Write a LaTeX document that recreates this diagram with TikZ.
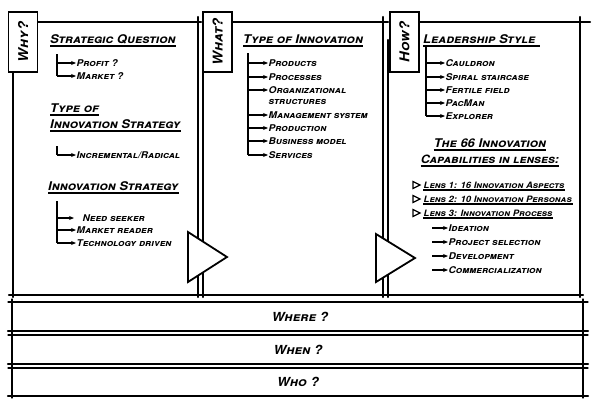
\documentclass[tikz,border=0pt]{standalone}
\usepackage{fontspec}
\newfontfamily\hand{TeX Gyre Heros}[Letters=SmallCaps, FakeStretch=1.08]
\usetikzlibrary{arrows.meta,calc}
\tikzset{
  border/.style={line width=2.2pt, line cap=round},
  thinb/.style={line width=1.2pt, line cap=round},
  tab/.style={draw, line width=1.8pt, fill=white, minimum width=29pt, minimum height=60pt, inner sep=0pt},
  tabtxt/.style={font=\hand\bfseries\itshape\fontsize{13.5}{14}\selectfont, rotate=90},
  head/.style={font=\hand\bfseries\itshape\fontsize{12}{13}\selectfont, anchor=base west, inner sep=0pt},
  item/.style={font=\hand\bfseries\itshape\fontsize{9.3}{10}\selectfont, anchor=west, inner sep=0.5pt},
  lensitem/.style={item, font=\hand\bfseries\itshape\fontsize{8.8}{10}\selectfont},
  rowtxt/.style={font=\hand\bfseries\itshape\fontsize{12.5}{13}\selectfont, inner sep=0pt},
  arr/.style={-{Stealth[length=5pt,width=4pt]}, line width=1.1pt},
  tree/.style={line width=1.2pt},
  uline/.style={line width=1.2pt},
  tri/.style={draw, line width=1.8pt, fill=white, line join=miter},
  lenstri/.style={draw, line width=1.2pt, line join=miter},
}
\begin{document}
\begin{tikzpicture}[x=1pt,y=-1pt]
\useasboundingbox (0,0) rectangle (592,399);
% ---------- panels ----------
% panel 1
\draw[border] (13,70) -- (13,297);
\draw[border] (34,22) -- (201,22);
\draw[border] (198,17) -- (198,297);
\draw[border] (9,295) -- (201,295);
% panel 2
\draw[border] (203,40) -- (203,297);
\draw[border] (229,22) -- (388,22);
\draw[border] (383,17) -- (383,297);
\draw[border] (200,295) -- (386,295);
% panel 3
\draw[border] (388,40) -- (388,297);
\draw[border] (416,22) -- (590,22);
\draw[border] (580,17) -- (580,297);
\draw[border] (385,295) -- (583,295);
% tabs
\node[tab] (why) at (23,42) {};
\node[tabtxt] at (why) {Why?};
\node[tab] (what) at (217.5,42) {};
\node[tabtxt] at (what) {What?};
\node[tab] (how) at (404.5,42) {};
\node[tabtxt] at (how) {How?};
% triangles
\draw[tri] (188,232) -- (227,257) -- (188,282) -- cycle;
\draw[tri] (376,234) -- (415,258) -- (376,282) -- cycle;
% ---------- bottom rows ----------
\foreach \t/\b in {302/331, 335/364, 368/396}{
  \draw[thinb] (8,\t) -- (588,\t);
  \draw[border] (8,\b) -- (588,\b);
  \draw[thinb] (12,\t-3) -- (12,\b+2);
  \draw[thinb] (583,\t-3) -- (583,\b+2);
}
\node[rowtxt] (where) at (300,317) {Where ?};
\node[rowtxt] (when) at (298,350) {When ?};
\node[rowtxt] (who) at (298,382) {Who ?};
% ---------- panel 1 content ----------
\node[head] (sq) at (50,43) {Strategic Question};
\draw[uline] ($(sq.base west)+(0,3)$) -- ($(sq.base east)+(0,3)$);
\coordinate (t1a) at (57,54);
\coordinate (t1b) at (57,76);
\draw[tree] (t1a) -- (t1b);
\node[item] (profit) at (76,63) {Profit ?};
\node[item] (market) at (76,76) {Market ?};
\draw[arr] (57,63) -- (profit.west);
\draw[arr] (t1b) -- (market.west);
\node[head] (tyo) at (50,112) {Type of};
\draw[uline] ($(tyo.base west)+(0,3)$) -- ($(tyo.base east)+(0,3)$);
\node[head] (ist) at (50,128) {Innovation Strategy};
\draw[uline] ($(ist.base west)+(0,3)$) -- ($(ist.base east)+(0,3)$);
\coordinate (t2a) at (57,146);
\coordinate (t2b) at (57,155);
\draw[tree] (t2a) -- (t2b);
\node[item] (incr) at (76,155) {Incremental/Radical};
\draw[arr] (t2b) -- (incr.west);
\node[head] (is2) at (48,190) {Innovation Strategy};
\draw[uline] ($(is2.base west)+(0,3)$) -- ($(is2.base east)+(0,3)$);
\coordinate (t3a) at (57,201);
\coordinate (t3b) at (57,243);
\draw[tree] (t3a) -- (t3b);
\node[item] (need) at (82,218) {Need seeker};
\node[item] (mread) at (76,230) {Market reader};
\node[item] (tech) at (76,243) {Technology driven};
\draw[arr] (57,218) -- (74,218);
\draw[arr] (57,230) -- (mread.west);
\draw[arr] (t3b) -- (tech.west);
% ---------- panel 2 content ----------
\node[head] (toi) at (243,43) {Type of Innovation};
\draw[uline] ($(toi.base west)+(0,3)$) -- ($(toi.base east)+(0,3)$);
\coordinate (t4a) at (248,53);
\coordinate (t4b) at (248,155);
\draw[tree] (t4a) -- (t4b);
\foreach \n/\y/\txt in {prod/63/Products, proc/77/Processes, org/90/Organizational, mgmt/115/Management system, prdn/128/Production, bus/141/Business model, serv/155/Services}{
  \node[item] (\n) at (268,\y) {\txt};
  \draw[arr] (248,\y) -- (\n.west);
}
\node[item] (struct) at (268,102) {structures};
% ---------- panel 3 content ----------
\node[head] (lead) at (423,43) {Leadership Style};
\draw[uline] ($(lead.base west)+(0,3)$) -- ($(lead.base east)+(4,3)$);
\coordinate (t5a) at (426,46);
\coordinate (t5b) at (426,116);
\draw[tree] (t5a) -- (t5b);
\foreach \n/\y/\txt in {caul/63/Cauldron, spir/77/Spiral staircase, fert/90/Fertile field, pac/103/PacMan, expl/116/Explorer}{
  \node[item] (\n) at (445,\y) {\txt};
  \draw[arr] (426,\y) -- (\n.west);
}
\node[head, anchor=base] (six) at (490,147) {The 66 Innovation};
\draw[uline] ($(six.base west)+(0,3)$) -- ($(six.base east)+(0,3)$);
\node[head, anchor=base, font=\hand\bfseries\itshape\fontsize{11.5}{12}\selectfont] (cap) at (490,163) {Capabilities in lenses:};
\draw[uline] ($(cap.base west)+(0,3)$) -- ($(cap.base east)+(0,3)$);
\foreach \n/\y/\txt in {lensa/185/Lens 1: 16 Innovation Aspects, lensb/199/Lens 2: 10 Innovation Personas, lensc/213/Lens 3: Innovation Process}{
  \node[lensitem] (\n) at (423,\y) {\txt};
  \draw[uline] ($(\n.south west)+(0,1)$) -- ($(\n.south east)+(0,1)$);
  \draw[lenstri] (413,\y-3.5) -- (420,\y) -- (413,\y+3.5) -- cycle;
}
\foreach \n/\y/\txt in {idea/228/Ideation, psel/242/Project selection, dev/256/Development, comm/270/Commercialization}{
  \node[item] (\n) at (448,\y) {\txt};
  \draw[arr] (432,\y) -- (\n.west);
}
\end{tikzpicture}
\end{document}
